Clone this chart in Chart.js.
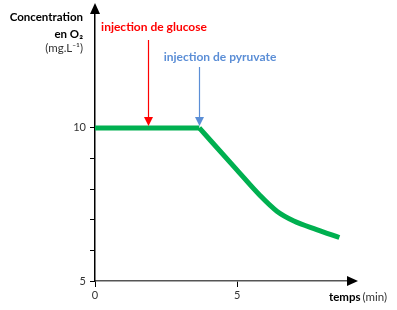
<!DOCTYPE html>
<html>
<head>
<meta charset="utf-8">
<script src="https://cdn.jsdelivr.net/npm/chart.js@4/dist/chart.umd.min.js"></script>
<style>
	html, body { margin: 0; padding: 0; background: #fff; }
	#wrap { width: 397px; height: 310px; position: relative; }
</style>
</head>
<body>
<div id="wrap"><canvas id="o2Chart"></canvas></div>
<script>
// Data.
var timeMin = [0, 3.67, 5.0, 5.8, 6.4, 7.0, 7.8, 8.6];
var o2Conc = [10, 10, 8.62, 7.8, 7.28, 6.96, 6.68, 6.42];
var yTickLabels = [5, 10];
var xTickLabels = [0, 5];
var injectionLabels = ['injection de glucose', 'injection de pyruvate'];
var injectionTimes = [1.88, 3.67];
var injectionColors = ['#ff0000', '#5b8ed6'];

var FONT = 'Lato, "Open Sans", sans-serif';

// Axis arrows, injection arrows and the hand-placed titles.
var decorPlugin = {
	id: 'decor',
	afterDraw: function(chart) {
		var ctx = chart.ctx;
		var xs = chart.scales.x;
		var ys = chart.scales.y;
		var x0 = xs.getPixelForValue(0);
		var y0 = ys.getPixelForValue(5);
		var yTop = ys.top;
		var xEnd = xs.right;

		ctx.save();
		// y axis line up to the arrow
		ctx.strokeStyle = '#000';
		ctx.lineWidth = 1.5;
		ctx.beginPath();
		ctx.moveTo(x0, yTop);
		ctx.lineTo(x0, 6);
		ctx.stroke();
		ctx.fillStyle = '#000';
		ctx.beginPath();
		ctx.moveTo(x0, 3);
		ctx.lineTo(x0 - 5, 14);
		ctx.lineTo(x0 + 5, 14);
		ctx.closePath();
		ctx.fill();
		// x axis arrow
		ctx.beginPath();
		ctx.moveTo(xEnd + 3, y0);
		ctx.lineTo(xEnd - 8, y0 - 5);
		ctx.lineTo(xEnd - 8, y0 + 5);
		ctx.closePath();
		ctx.fill();

		// injection arrows
		var starts = [40, 67];
		var textY = [27, 57];
		var tipY = ys.getPixelForValue(10) - 2;
		ctx.lineWidth = 1.2;
		for (var i = 0; i < injectionTimes.length; i++) {
			var px = Math.round(xs.getPixelForValue(injectionTimes[i])) + 0.5;
			ctx.strokeStyle = injectionColors[i];
			ctx.fillStyle = injectionColors[i];
			ctx.beginPath();
			ctx.moveTo(px, starts[i]);
			ctx.lineTo(px, tipY - 8);
			ctx.stroke();
			ctx.beginPath();
			ctx.moveTo(px, tipY);
			ctx.lineTo(px - 4.5, tipY - 9);
			ctx.lineTo(px + 4.5, tipY - 9);
			ctx.closePath();
			ctx.fill();
		}
		ctx.font = 'bold 12px ' + FONT;
		ctx.textBaseline = 'middle';
		ctx.textAlign = 'center';
		ctx.fillStyle = injectionColors[0];
		ctx.fillText(injectionLabels[0], 154, textY[0]);
		ctx.fillStyle = injectionColors[1];
		ctx.fillText(injectionLabels[1], 220, textY[1]);

		// y title
		ctx.textAlign = 'right';
		ctx.fillStyle = '#000';
		ctx.font = 'bold 11.5px ' + FONT;
		ctx.fillText('Concentration', 83, 17);
		ctx.fillText('en O\u2082', 83, 34);
		ctx.font = '11.5px ' + FONT;
		ctx.fillStyle = '#333';
		ctx.fillText('(mg.L\u207B\u00B9)', 83, 48);

		// x title
		ctx.textAlign = 'left';
		ctx.font = 'bold 11.5px ' + FONT;
		ctx.fillStyle = '#000';
		ctx.fillText('temps', 329, 297);
		var w = ctx.measureText('temps').width;
		ctx.font = '11.5px ' + FONT;
		ctx.fillStyle = '#333';
		ctx.fillText('(min)', 329 + w + 2, 297);
		ctx.restore();
	}
};

document.addEventListener('DOMContentLoaded', function() {
	var points = timeMin.map(function(t, i) { return { x: t, y: o2Conc[i] }; });
	// flat part before the pyruvate injection, then the decline
	var split = timeMin.indexOf(injectionTimes[1]);
	var lineStyle = {
		borderColor: '#00b050',
		borderWidth: 5,
		pointRadius: 0,
		fill: false,
		cubicInterpolationMode: 'monotone',
		borderCapStyle: 'butt',
		borderJoinStyle: 'miter'
	};

	new Chart(document.getElementById('o2Chart'), {
		type: 'line',
		data: {
			datasets: [
				Object.assign({ data: points.slice(0, split + 1) }, lineStyle),
				Object.assign({ data: points.slice(split) }, lineStyle)
			]
		},
		plugins: [decorPlugin],
		options: {
			responsive: true,
			maintainAspectRatio: false,
			animation: false,
			layout: { padding: { left: 0, top: 0, right: 42, bottom: 0 } },
			plugins: {
				legend: { display: false },
				tooltip: { enabled: false }
			},
			scales: {
				x: {
					type: 'linear',
					min: 0,
					max: 9.15,
					afterFit: function(scale) { scale.height = 29; },
					border: { color: '#555', width: 1.5 },
					grid: { drawOnChartArea: false, drawTicks: true, tickLength: 6, color: '#000' },
					ticks: {
						stepSize: 5,
						includeBounds: false,
						padding: 2,
						color: '#333',
						font: { family: FONT, size: 11 },
						callback: function(v) { return xTickLabels.indexOf(v) >= 0 ? String(v) : ''; }
					}
				},
				y: {
					min: 5,
					max: 13.83,
					afterFit: function(scale) { scale.width = 95; },
					afterBuildTicks: function(scale) {
						scale.ticks = scale.ticks.filter(function(t) { return t.value <= 10; });
					},
					border: { color: '#000', width: 1.5 },
					grid: { drawOnChartArea: false, drawTicks: true, tickLength: 5, color: '#000' },
					ticks: {
						stepSize: 1,
						padding: 4,
						color: '#333',
						font: { family: FONT, size: 11 },
						callback: function(v) { return yTickLabels.indexOf(v) >= 0 ? String(v) : ''; }
					}
				}
			}
		}
	});
});
</script>
</body>
</html>
